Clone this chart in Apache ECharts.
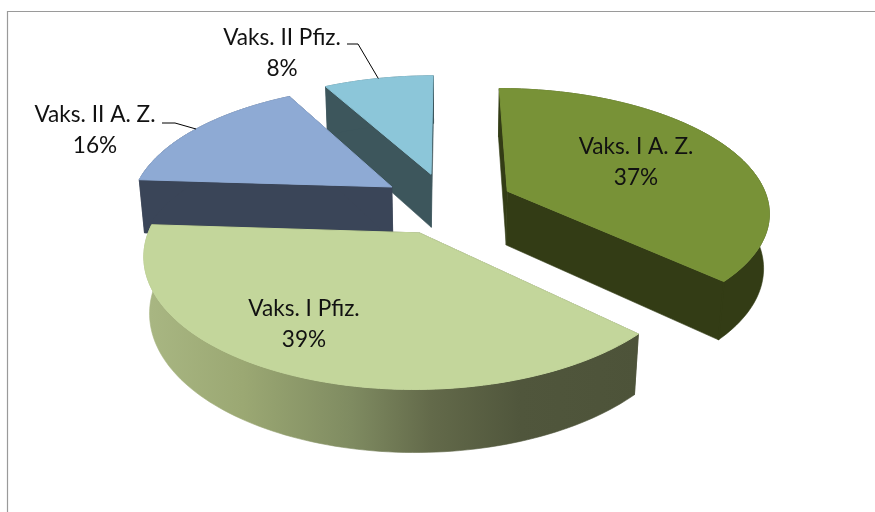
<!DOCTYPE html>
<html lang="en">
<head>
    <meta charset="UTF-8">
    <title>Vaks.</title>
    <script src="https://cdn.jsdelivr.net/npm/echarts@6/dist/echarts.min.js"></script>
    <style>
        html, body { margin: 0; padding: 0; background: #fff; }
        #chart { width: 875px; height: 512px; }
    </style>
</head>
<body>
    <div id="chart"></div>
    <script>
        const categories = ['Vaks. I A. Z.', 'Vaks. I Pfiz.', 'Vaks. II A. Z.', 'Vaks. II Pfiz.'];
        const percents = [37, 39, 16, 8];

        // look of each slice
        const topColors = ['#789237', '#c3d69b', '#8eaad4', '#8cc6d9'];
        const wallColors = ['#333c15', '#4d5339', '#3a4558', '#3d565c'];
        const drawRank = [3, 4, 2, 1]; // far slices first
        const labelCenters = [[636, 146], [304, 308], [95, 114], [282, 37]];
        const leaderStarts = [null, null, [[162, 123], [175, 123]], [[347, 44], [358, 44]]];

        // perspective of the 3D pie
        const cx = 447, cy = 203.3, radius = 261.5;
        const tiltY = 122, depth = 55.5, persp = 0.155, perspZ = 0.018;
        const explode = 0.255;

        const total = percents.reduce((a, b) => a + b, 0);

        // X,Y in the pie plane (radius = 1, Y goes away from the viewer), Z = 1 is the bottom face
        function project(X, Y, Z) {
            const w = 1 + persp * Y + perspZ * Z;
            return [cx + radius * X / w, cy + (-tiltY * Y + depth * Z) / w];
        }

        function rimPoint(center, ang, Z) {
            return project(center[0] + Math.sin(ang), center[1] + Math.cos(ang), Z);
        }

        function sliceAngles(i) {
            const before = percents.slice(0, i).reduce((a, b) => a + b, 0);
            const a0 = before / total * Math.PI * 2;
            const a1 = (before + percents[i]) / total * Math.PI * 2;
            return [a0, a1];
        }

        function renderSlice(params, api) {
            const i = params.dataIndex;
            const [a0, a1] = sliceAngles(i);
            const mid = (a0 + a1) / 2;
            const center = [explode * Math.sin(mid), explode * Math.cos(mid)];
            const steps = Math.max(12, Math.round((a1 - a0) * 40));
            const topArc = [], bottomArc = [];
            for (let s = 0; s <= steps; s++) {
                const a = a0 + (a1 - a0) * s / steps;
                topArc.push(rimPoint(center, a, 0));
                bottomArc.push(rimPoint(center, a, 1));
            }
            const apexTop = project(center[0], center[1], 0);
            const apexBottom = project(center[0], center[1], 1);
            const rank = drawRank[i] * 10;
            const children = [];
            const flat = wallColors[i];

            // inner walls
            [0, steps].forEach(function (e) {
                children.push({
                    type: 'polygon',
                    z2: rank,
                    shape: { points: [apexTop, topArc[e], bottomArc[e], apexBottom] },
                    style: { fill: flat, stroke: flat, lineWidth: 0.6 }
                });
            });

            // outer wall, the light green one has the shaded band
            let wallFill = flat;
            if (i === 1) {
                wallFill = new echarts.graphic.LinearGradient(0, 0, 1, 0, [
                    { offset: 0, color: '#a9b783' },
                    { offset: 0.2, color: '#9ba873' },
                    { offset: 0.42, color: '#7f8b61' },
                    { offset: 0.58, color: '#636a4a' },
                    { offset: 0.76, color: '#50563c' },
                    { offset: 1, color: '#4d5339' }
                ]);
            }
            children.push({
                type: 'polygon',
                z2: rank + 1,
                shape: { points: topArc.concat(bottomArc.slice().reverse()) },
                style: { fill: wallFill, stroke: wallFill, lineWidth: 0.6 }
            });

            // hide the seam between inner and outer wall
            if (i !== 1) {
                children.push({
                    type: 'line',
                    z2: rank + 1,
                    shape: {
                        x1: topArc[steps][0], y1: topArc[steps][1],
                        x2: bottomArc[steps][0], y2: bottomArc[steps][1]
                    },
                    style: { stroke: flat, lineWidth: 1.5 }
                });
            }

            // top face
            children.push({
                type: 'polygon',
                z2: rank + 2,
                shape: { points: [apexTop].concat(topArc) },
                style: { fill: topColors[i], stroke: topColors[i], lineWidth: 1 }
            });

            // label with its leader line
            if (leaderStarts[i]) {
                children.push({
                    type: 'polyline',
                    z2: 100,
                    shape: { points: leaderStarts[i].concat([rimPoint(center, mid, 0)]) },
                    style: { fill: null, stroke: '#000', lineWidth: 1 }
                });
            }
            children.push({
                type: 'text',
                z2: 101,
                style: {
                    x: labelCenters[i][0],
                    y: labelCenters[i][1] - 15,
                    text: categories[i] + '\n' + percents[i] + '%',
                    fill: '#111',
                    font: '22.6px Lato',
                    lineHeight: 31,
                    align: 'center',
                    verticalAlign: 'top'
                }
            });
            return { type: 'group', children: children };
        }

        const myChart = echarts.init(document.getElementById('chart'));
        myChart.setOption({
            animation: false,
            backgroundColor: '#fff',
            graphic: [{
                type: 'polyline',
                silent: true,
                shape: { points: [[7.5, 512], [7.5, 11.5], [875, 11.5]] },
                style: { fill: null, stroke: '#9a9a9a', lineWidth: 1.2 }
            }],
            series: [{
                type: 'custom',
                coordinateSystem: 'none',
                renderItem: renderSlice,
                data: percents.map((v, i) => ({ name: categories[i], value: v }))
            }]
        });
    </script>
</body>
</html>
